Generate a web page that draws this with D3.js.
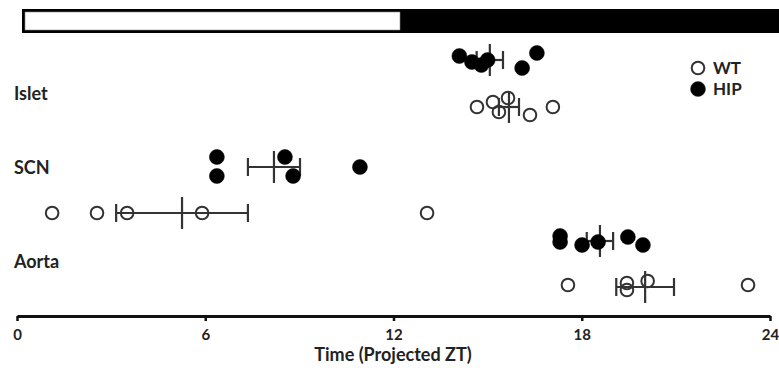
<!DOCTYPE html>
<html><head><meta charset="utf-8">
<script src="https://cdn.jsdelivr.net/npm/d3@7"></script>
<style>html,body{margin:0;padding:0;background:#fff;overflow:hidden}</style>
</head><body>
<svg id="c" width="779" height="368"></svg>
<script>
// ---- data ----
const tissues = ["Islet", "SCN", "Aorta"];
const genotypes = ["WT", "HIP"];
const xTicks = [0, 6, 12, 18, 24];
const lightDark = [[0, 12, "light"], [12, 24, "dark"]];

const isletHIP = [14.1, 14.5, 14.8, 15.0, 16.1, 16.57];
const isletWT  = [14.66, 15.17, 15.36, 15.65, 16.35, 17.08];
const scnHIP   = [6.37, 6.37, 8.54, 8.8, 10.93];
const scnWT    = [1.12, 2.55, 3.51, 5.9, 13.07];
const aortaHIP = [17.31, 17.31, 18.01, 18.52, 19.47, 19.95];
const aortaWT  = [17.56, 19.44, 19.44, 20.1, 23.3];

const means = { isletHIP: 15.07, isletWT: 15.68, scnHIP: 8.19, scnWT: 5.26, aortaHIP: 18.58, aortaWT: 20.02 };
const sems  = { isletHIP: 0.42, isletWT: 0.32, scnHIP: 0.83, scnWT: 2.1, aortaHIP: 0.42, aortaWT: 0.92 };

// ---- layout ----
const svg = d3.select("#c");
const x = d3.scaleLinear().domain([0, 24]).range([17, 770]);
const rowY = { isletHIP: 60, isletWT: 107, scnHIP: 167, scnWT: 213, aortaHIP: 241, aortaWT: 287 };
const jitter = {
  isletHIP: [-4, 2, 5, 0, 8, -7],
  isletWT: [0, -5, 5, -9, 8, 0],
  scnHIP: [-10, 9, -10, 9, 0],
  scnWT: [0, 0, 0, 0, 0],
  aortaHIP: [-5, 1, 4, 1, -4, 4],
  aortaWT: [-2, -4, 3, -6, -2]
};
const groups = [
  ["isletHIP", isletHIP, "HIP"], ["isletWT", isletWT, "WT"],
  ["scnHIP", scnHIP, "HIP"], ["scnWT", scnWT, "WT"],
  ["aortaHIP", aortaHIP, "HIP"], ["aortaWT", aortaWT, "WT"]
];
const font = "Lato, 'Open Sans', sans-serif";

// light/dark bar
const barTop = 9, barH = 24, off = 5;
svg.append("rect").attr("x", x(0) + off).attr("y", barTop)
  .attr("width", x(24) - x(0) + 20).attr("height", barH).attr("fill", "#000");
lightDark.forEach(([a, b, t]) => {
  if (t === "light") {
    svg.append("rect").attr("x", x(a) + off + 3).attr("y", barTop + 3)
      .attr("width", x(b) - x(a) - 1.5).attr("height", barH - 6)
      .attr("fill", "#fff").attr("stroke", "#888").attr("stroke-width", 0.6);
  }
});

// tissue labels
const labelY = { Islet: 100, SCN: 174, Aorta: 268 };
tissues.forEach(t => {
  svg.append("text").attr("x", 14).attr("y", labelY[t]).text(t)
    .attr("font-family", font).attr("font-weight", "bold").attr("font-size", 18).attr("fill", "#222");
});

// error bars
const eb = svg.append("g").attr("stroke", "#333").attr("stroke-width", 2.2).attr("fill", "none");
groups.forEach(([k]) => {
  const y = rowY[k], m = means[k], s = sems[k];
  eb.append("line").attr("x1", x(m - s)).attr("x2", x(m + s)).attr("y1", y).attr("y2", y);
  eb.append("line").attr("x1", x(m - s)).attr("x2", x(m - s)).attr("y1", y - 9).attr("y2", y + 9);
  eb.append("line").attr("x1", x(m + s)).attr("x2", x(m + s)).attr("y1", y - 9).attr("y2", y + 9);
  eb.append("line").attr("x1", x(m)).attr("x2", x(m)).attr("y1", y - 16).attr("y2", y + 16);
});

// points
groups.forEach(([k, vals, g]) => {
  svg.append("g").selectAll("circle").data(vals).join("circle")
    .attr("cx", d => x(d)).attr("cy", (d, i) => rowY[k] + jitter[k][i])
    .attr("r", g === "HIP" ? 7.5 : 6.3)
    .attr("fill", g === "HIP" ? "#000" : "none")
    .attr("stroke", g === "HIP" ? "#000" : "#333")
    .attr("stroke-width", g === "HIP" ? 0.5 : 2);
});

// legend
genotypes.forEach((g, i) => {
  const ly = 68 + i * 21;
  svg.append("circle").attr("cx", 698).attr("cy", ly).attr("r", g === "HIP" ? 7.5 : 6.3)
    .attr("fill", g === "HIP" ? "#000" : "none").attr("stroke", "#333").attr("stroke-width", g === "HIP" ? 0.5 : 2);
  svg.append("text").attr("x", 713).attr("y", ly + 6).text(g)
    .attr("font-family", font).attr("font-weight", "bold").attr("font-size", 17).attr("fill", "#222");
});

// axis
const axisY = 316;
const ax = svg.append("g").attr("transform", `translate(0,${axisY})`)
  .call(d3.axisBottom(x).tickValues(xTicks).tickSize(5).tickSizeOuter(0).tickPadding(8));
ax.select(".domain").attr("stroke", "#111").attr("stroke-width", 3);
ax.selectAll(".tick line").attr("stroke", "#111").attr("stroke-width", 2.5);
ax.selectAll(".tick text").attr("font-family", font).attr("font-weight", "bold")
  .attr("font-size", 15).attr("fill", "#222");
svg.append("text").attr("x", 393).attr("y", 361).attr("text-anchor", "middle")
  .text("Time (Projected ZT)")
  .attr("font-family", font).attr("font-weight", "bold").attr("font-size", 18).attr("fill", "#222");
</script>
</body></html>
